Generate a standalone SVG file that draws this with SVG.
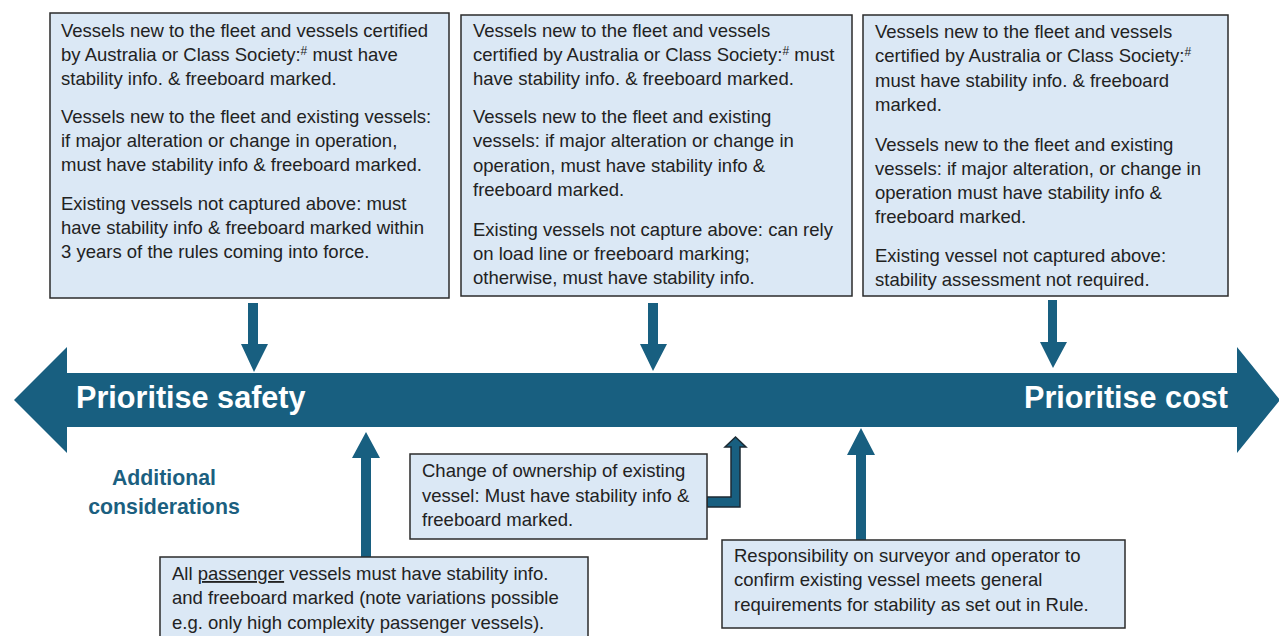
<svg xmlns="http://www.w3.org/2000/svg" width="1279" height="636" viewBox="0 0 1279 636">
<style>
.box{fill:#dbe8f5;stroke:#2b2b2b;stroke-width:1.5}
.t{font-family:"Liberation Sans",Arial,sans-serif;font-size:18.5px;fill:#222}
.sup{font-size:12px}
.big{font-family:"Liberation Sans",Arial,sans-serif;font-size:30.6px;font-weight:bold;fill:#fff}
.add{font-family:"Liberation Sans",Arial,sans-serif;font-size:21.3px;font-weight:bold;fill:#1b5f80;text-anchor:middle}
.arr{fill:#185f80}
</style>
<rect width="1279" height="636" fill="#fff"/>

<g id="main-arrow">
<polygon class="arr" points="14,400 67,347 67,373 1237,373 1237,347 1280,400 1237,453 1237,427 67,427 67,453"/>
<text class="big" x="76" y="408">Prioritise safety</text>
<text class="big" x="1024" y="408">Prioritise cost</text>
</g>

<g id="connectors">
<polygon class="arr" points="248,303 258,303 258,344 268,344 254,372 241,344 248,344"/>
<polygon class="arr" points="648,303 658,303 658,344 667,344 653,371 640,344 648,344"/>
<polygon class="arr" points="1048,300 1057,300 1057,342 1067,342 1053,368 1040,342 1048,342"/>
<polygon class="arr" points="361,557 371,557 371,458 380,458 366,432 352,458 361,458"/>
<polygon class="arr" points="856,540 866,540 866,455 875,455 861,428 847,455 856,455"/>
<polygon class="arr" stroke="#1c2a33" stroke-width="1.5" stroke-linejoin="miter" points="707,497 731,497 731,447 725,447 735.5,437 746,447 740,447 740,507 707,507"/>
</g>

<g id="box1">
<rect class="box" x="50" y="13" width="399" height="285"/>
<text class="t" x="61" y="37">Vessels new to the fleet and vessels certified</text>
<text class="t" x="61" y="61">by Australia or Class Society:<tspan class="sup" dy="-6">#</tspan><tspan dy="6"> must have</tspan></text>
<text class="t" x="61" y="85">stability info. &amp; freeboard marked.</text>
<text class="t" x="61" y="123">Vessels new to the fleet and existing vessels:</text>
<text class="t" x="61" y="147">if major alteration or change in operation,</text>
<text class="t" x="61" y="171">must have stability info &amp; freeboard marked.</text>
<text class="t" x="61" y="210">Existing vessels not captured above: must</text>
<text class="t" x="61" y="234">have stability info &amp; freeboard marked within</text>
<text class="t" x="61" y="258">3 years of the rules coming into force.</text>
</g>

<g id="box2">
<rect class="box" x="461" y="15" width="391" height="281"/>
<text class="t" x="473" y="37">Vessels new to the fleet and vessels</text>
<text class="t" x="473" y="61">certified by Australia or Class Society:<tspan class="sup" dy="-6">#</tspan><tspan dy="6"> must</tspan></text>
<text class="t" x="473" y="85">have stability info. &amp; freeboard marked.</text>
<text class="t" x="473" y="123">Vessels new to the fleet and existing</text>
<text class="t" x="473" y="147">vessels: if major alteration or change in</text>
<text class="t" x="473" y="172">operation, must have stability info &amp;</text>
<text class="t" x="473" y="196">freeboard marked.</text>
<text class="t" x="473" y="236">Existing vessels not capture above: can rely</text>
<text class="t" x="473" y="260">on load line or freeboard marking;</text>
<text class="t" x="473" y="284">otherwise, must have stability info.</text>
</g>

<g id="box3">
<rect class="box" x="863" y="15" width="365" height="281"/>
<text class="t" x="875" y="38">Vessels new to the fleet and vessels</text>
<text class="t" x="875" y="62">certified by Australia or Class Society:<tspan class="sup" dy="-6">#</tspan></text>
<text class="t" x="875" y="87">must have stability info. &amp; freeboard</text>
<text class="t" x="875" y="111">marked.</text>
<text class="t" x="875" y="151">Vessels new to the fleet and existing</text>
<text class="t" x="875" y="175">vessels: if major alteration, or change in</text>
<text class="t" x="875" y="199">operation must have stability info &amp;</text>
<text class="t" x="875" y="223">freeboard marked.</text>
<text class="t" x="875" y="262">Existing vessel not captured above:</text>
<text class="t" x="875" y="286">stability assessment not required.</text>
</g>

<g id="additional">
<text class="add" x="164" y="485">Additional</text>
<text class="add" x="164" y="514">considerations</text>
</g>

<g id="box4">
<rect class="box" x="410" y="454" width="297" height="85"/>
<text class="t" x="422" y="477">Change of ownership of existing</text>
<text class="t" x="422" y="502">vessel: Must have stability info &amp;</text>
<text class="t" x="422" y="526">freeboard marked.</text>
</g>

<g id="box5">
<rect class="box" x="160" y="557" width="428" height="90"/>
<text class="t" x="172" y="580">All <tspan text-decoration="underline">passenger</tspan> vessels must have stability info.</text>
<text class="t" x="172" y="604">and freeboard marked (note variations possible</text>
<text class="t" x="172" y="629">e.g. only high complexity passenger vessels).</text>
</g>

<g id="box6">
<rect class="box" x="722" y="540" width="403" height="88"/>
<text class="t" x="734" y="562">Responsibility on surveyor and operator to</text>
<text class="t" x="734" y="586">confirm existing vessel meets general</text>
<text class="t" x="734" y="611">requirements for stability as set out in Rule.</text>
</g>
</svg>
